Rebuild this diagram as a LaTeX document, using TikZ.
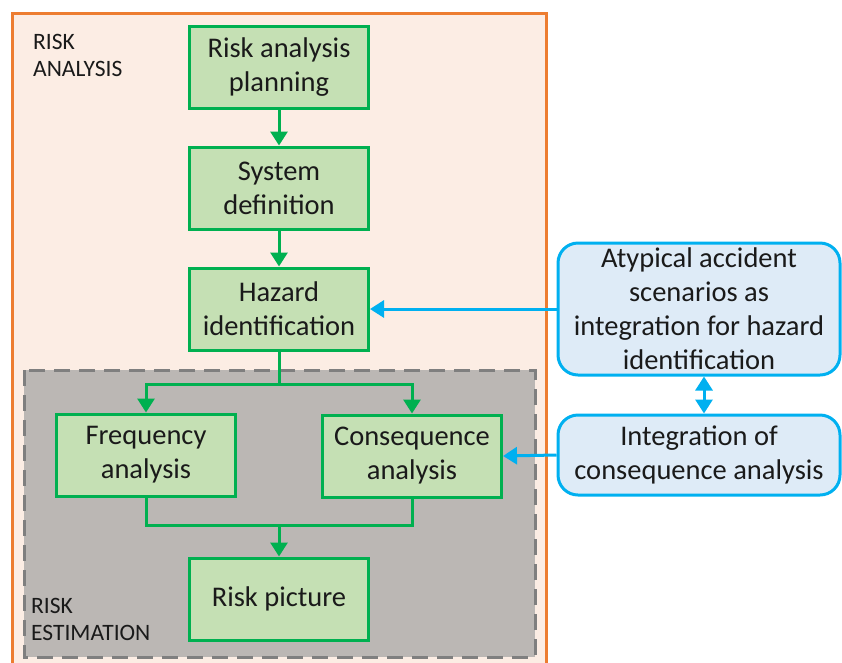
\documentclass[tikz,border=0pt]{standalone}
\usepackage{fontspec}
\setmainfont{Carlito}
\usetikzlibrary{arrows.meta,positioning}

\definecolor{stepgreen}{HTML}{00B050}
\definecolor{stepfill}{HTML}{C5E0B4}
\definecolor{noteblue}{HTML}{00B0F0}
\definecolor{notefill}{HTML}{DEEBF7}
\definecolor{frameorange}{HTML}{ED7D31}
\definecolor{framefill}{HTML}{FCEDE4}
\definecolor{estfill}{HTML}{BBB7B4}
\definecolor{estline}{HTML}{7F7F7F}
\definecolor{txt}{HTML}{1A1A1A}

\tikzset{
	stepbox/.style={draw=stepgreen,fill=stepfill,line width=3pt,minimum width=179pt,minimum height=82pt,align=center,text=txt,font=\fontsize{28.5}{34}\selectfont},
	notebox/.style={draw=noteblue,fill=notefill,line width=3pt,rounded corners=20pt,minimum width=282pt,align=center,text=txt,font=\fontsize{28.5}{34}\selectfont},
	flow/.style={draw=stepgreen,line width=3pt},
	feed/.style={draw=noteblue,line width=3pt},
	tag/.style={align=left,anchor=north west,inner sep=0pt,text=txt,font=\fontsize{23.5}{27}\selectfont}
}

\begin{document}
\begin{tikzpicture}[x=1pt,y=-1pt,>={Triangle[length=14pt,width=17pt]},node distance=36pt]
	\useasboundingbox (0,0) rectangle (842,662);
	\clip (0,0) rectangle (842,662);
	\draw[frameorange,fill=framefill,line width=3pt] (12,13) rectangle (546,680);
	\draw[estline,fill=estfill,line width=3pt,dash pattern=on 16pt off 9pt] (24,370) rectangle (535,657);
	\node[tag] (anatag) at (33,34) {RISK\\ANALYSIS};
	\node[tag] (esttag) at (31,598) {RISK\\ESTIMATION};
	\node[stepbox] (plan) at (279,67) {Risk analysis\\planning};
	\node[stepbox,below=of plan] (sysdef) {System\\definition};
	\node[stepbox,below=of sysdef] (hazard) {Hazard\\identification};
	\node[stepbox] (freq) at (146,455) {Frequency\\analysis};
	\node[stepbox] (cons) at (412,456) {Consequence\\analysis};
	\node[stepbox] (pic) at (279,599) {Risk picture};
	\node[notebox,minimum height=132pt] (atyp) at (699,309) {Atypical accident\\scenarios as\\integration for hazard\\identification};
	\node[notebox,minimum height=80pt] (integ) at (699,455) {Integration of\\consequence analysis};
	\coordinate (split) at (279,384);
	\coordinate (join) at (279,525);
	\draw[flow,->] (plan) -- (sysdef);
	\draw[flow,->] (sysdef) -- (hazard);
	\draw[flow] (hazard.south) -- (split);
	\draw[flow,->] (split) -| (freq.north);
	\draw[flow,->] (split) -| (cons.north);
	\draw[flow] (freq.south) |- (join);
	\draw[flow] (cons.south) |- (join);
	\draw[flow,->] (join) -- (pic.north);
	\draw[feed,->] (atyp.west) -- (hazard.east);
	\draw[feed,->] (integ.west) -- (cons.east);
	\draw[feed,<->] ([xshift=5pt]atyp.south) -- ([xshift=5pt]integ.north);
\end{tikzpicture}
\end{document}
